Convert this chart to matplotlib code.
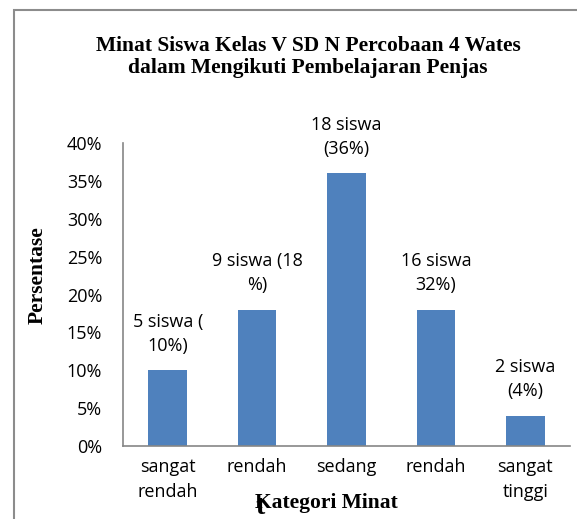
import matplotlib.pyplot as plt
from matplotlib.patches import Rectangle

categories = ['sangat\nrendah', 'rendah', 'sedang', 'rendah', 'sangat\ntinggi']
values = [0.10, 0.18, 0.36, 0.18, 0.04]
bar_labels = ['5 siswa (\n10%)', '9 siswa (18\n%)', '18 siswa\n(36%)',
              '16 siswa\n32%)', '2 siswa\n(4%)']
yticks = [0, 0.05, 0.10, 0.15, 0.20, 0.25, 0.30, 0.35, 0.40]
ytick_labels = ['0%', '5%', '10%', '15%', '20%', '25%', '30%', '35%', '40%']

sans = ['Open Sans', 'DejaVu Sans']
serif = ['Liberation Serif', 'DejaVu Serif']
bar_color = '#4F81BD'
axis_color = '#868686'
fs = 13

fig = plt.figure(figsize=(5.77, 5.19), dpi=100)
W, H = 577, 519

# chart area border (cut off at right and bottom)
fig.patches.append(Rectangle((14 / W, -0.1), 1.1, 1 - 10 / H + 0.1,
                             transform=fig.transFigure, fill=False,
                             edgecolor='#8c8c8c', linewidth=1.5))

ax = fig.add_axes([123 / W, 1 - 446 / H, 447 / W, (446 - 143) / H])
x = range(len(categories))
ax.bar(x, values, width=0.43, color=bar_color)
ax.set_xlim(-0.5, len(categories) - 0.5)
ax.set_ylim(0, 0.40)
ax.set_yticks(yticks)
ax.set_yticklabels(ytick_labels, family=sans, fontsize=fs)
ax.set_xticks(list(x))
ax.set_xticklabels(categories, family=sans, fontsize=fs, linespacing=1.45)
ax.tick_params(length=0)
ax.tick_params(axis='y', pad=15)
ax.tick_params(axis='x', pad=9)
for s in ['top', 'right']:
    ax.spines[s].set_visible(False)
for s in ['left', 'bottom']:
    ax.spines[s].set_color(axis_color)
    ax.spines[s].set_linewidth(1.2)

for i, (v, lab) in enumerate(zip(values, bar_labels)):
    ax.annotate(lab, (i, v), xytext=(0, 11), textcoords='offset points',
                ha='center', va='bottom', family=sans, fontsize=fs,
                linespacing=1.45)

fig.text(308 / W, 1 - 57 / H,
         'Minat Siswa Kelas V SD N Percobaan 4 Wates\ndalam Mengikuti Pembelajaran Penjas',
         ha='center', va='center', family=serif, fontweight='bold',
         fontsize=15.5, linespacing=1.1)
fig.text(38 / W, 1 - 275 / H, 'Persentase', rotation=90, ha='center',
         va='center', family=serif, fontweight='bold', fontsize=15.5)
fig.text(326 / W, 1 - 503 / H, 'Kategori Minat', ha='center', va='center',
         family=serif, fontweight='bold', fontsize=15.5)
fig.text(260 / W, 1 - 508 / H, 't', ha='center', va='center',
         family=serif, fontweight='bold', fontsize=20)

fig.savefig('out.png', dpi=100)
